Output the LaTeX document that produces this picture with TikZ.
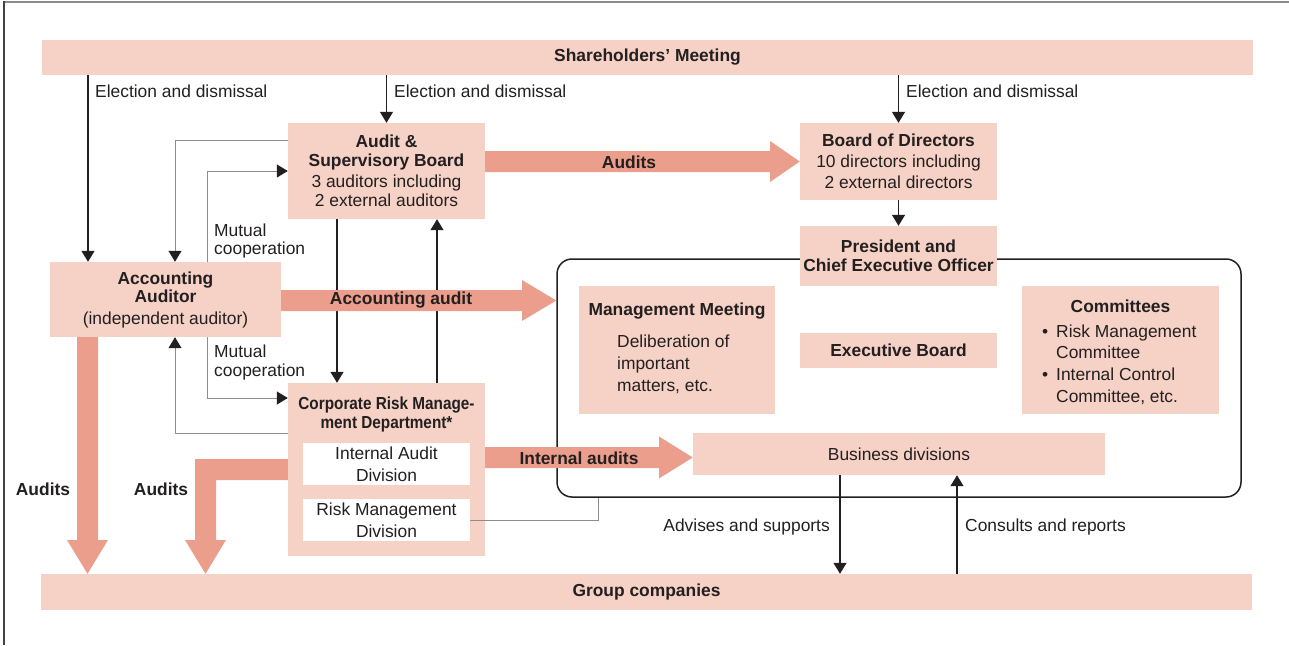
\documentclass[tikz,border=0pt]{standalone}
\usepackage{fontspec}
\setmainfont{Liberation Sans}
\newfontfamily\narrowfont[FakeStretch=0.88]{Liberation Sans}
\usetikzlibrary{arrows.meta}
\definecolor{boxc}{HTML}{F5D2C5}
\definecolor{arrc}{HTML}{EB9E8B}
\definecolor{txtc}{HTML}{231F20}
\definecolor{grayc}{HTML}{8C8C8C}
\newcommand\myfs[1]{\fontsize{17.4}{#1}\selectfont}
\begin{document}
\begin{tikzpicture}[x=1pt,y=-1pt,
  every node/.style={text=txtc, font=\myfs{21}},
  box/.style={fill=boxc, inner sep=0pt, align=center, font=\myfs{21}\bfseries},
  wbox/.style={fill=white, inner sep=0pt, align=center, font=\myfs{22}},
  lbl/.style={inner sep=0pt},
  blk/.style={line width=1.3pt, draw=txtc, -{Triangle[width=13pt,length=11pt]}},
  gl/.style={line width=1pt, draw=grayc, -{Triangle[width=13pt,length=11pt,color=txtc]}},
  glp/.style={line width=1pt, draw=grayc},
  big/.style={fill=arrc}
]
\useasboundingbox (0,0) rectangle (1289,645);
% frame
\draw[grayc, line width=2pt] (4,2) -- (1289,2);
\draw[txtc!85, line width=1.5pt] (4,1) -- (4,645);

% executive area
\node[draw=txtc, line width=1.5pt, rounded corners=15pt, minimum width=684pt, minimum height=238pt, inner sep=0pt] (exec) at (899,378) {};

% boxes
\node[box, minimum width=1211pt, minimum height=35pt] (sh) at (647.5,57.5) {Shareholders’ Meeting};
\node[box, minimum width=1211pt, minimum height=36pt] (gc) at (646.5,592) {Group companies};
\node[box, minimum width=197pt, minimum height=96pt, font=\myfs{19}\bfseries] (asb) at (386.5,171) {Audit \&\\Supervisory Board\\[2pt]{\mdseries 3 auditors including}\\{\mdseries 2 external auditors}};
\node[box, minimum width=197pt, minimum height=77pt] (bod) at (898.5,161.5) {Board of Directors\\{\mdseries 10 directors including}\\{\mdseries 2 external directors}};
\node[box, minimum width=197pt, minimum height=60pt, font=\myfs{18.5}\bfseries] (pres) at (898.5,256) {President and\\Chief Executive Officer};
\node[box, minimum width=196pt, minimum height=128pt] (mm) at (677,350) {};
\node[lbl, font=\myfs{21}\bfseries] (mmt) at (677,311) {Management Meeting};
\node[lbl, anchor=west, align=left, font=\myfs{22}] (mmb) at (617,364) {Deliberation of\\important\\matters, etc.};
\node[box, minimum width=197pt, minimum height=35pt] (eb) at (898.5,350.5) {Executive Board};
\node[box, minimum width=197pt, minimum height=128pt] (com) at (1120.5,350) {};
\node[lbl, font=\myfs{21}\bfseries] (comt) at (1120.5,306) {Committees};
\node[lbl, anchor=west, align=left, font=\myfs{21.6}] (comb) at (1042,364.5) {\makebox[14pt][l]{•}Risk Management\\\makebox[14pt][l]{}Committee\\\makebox[14pt][l]{•}Internal Control\\\makebox[14pt][l]{}Committee, etc.};
\node[box, minimum width=412pt, minimum height=42pt, font=\myfs{21}] (bd) at (899,454) {Business divisions};
\node[box, minimum width=231pt, minimum height=75pt, font=\myfs{18}\bfseries] (aa) at (165.5,299.5) {Accounting\\Auditor\\[4pt]{\mdseries (independent auditor)}};
\node[box, minimum width=197pt, minimum height=173pt] (crm) at (386.5,469.5) {};
\node[lbl, align=center, font=\narrowfont\myfs{19}\bfseries] (crmt) at (386.5,414) {Corporate Risk Manage-\\ment Department*};
\node[wbox, minimum width=167pt, minimum height=42pt] (iad) at (386.5,464) {Internal Audit\\Division};
\node[wbox, minimum width=167pt, minimum height=42pt] (rmd) at (386.5,520) {Risk Management\\Division};

% thin connectors
\draw[blk] (88,0 |- sh.south) -- (88,0 |- aa.north);
\draw[blk] (asb.north |- sh.south) -- (asb.north);
\draw[blk] (bod.north |- sh.south) -- (bod.north);
\draw[blk] (bod.south) -- (pres.north);
\draw[gl] (asb.west |- 0,140) -| (175,0 |- aa.north);
\draw[gl] (207,0 |- aa.north) |- (asb.west |- 0,171);
\draw[gl] (207,0 |- aa.south) |- (crm.west |- 0,398);
\draw[gl] (crm.west |- 0,433) -| (175,0 |- aa.south);
\draw[blk] (337,0 |- asb.south) -- (337,0 |- crm.north);
\draw[blk] (437,0 |- crm.north) -- (437,0 |- asb.south);
\draw[glp] (rmd.east) -| (598,0 |- exec.south);
\draw[blk] (840,0 |- bd.south) -- (840,0 |- gc.north);
\draw[blk] (957,0 |- gc.north) -- (957,0 |- bd.south);

% big arrows
\fill[big] (asb.east |- 0,151) -- (770,151) -- (770,141) -- (bod.west |- 0,161.5) -- (770,182) -- (770,172) -- (asb.east |- 0,172) -- cycle;
\fill[big] (aa.east |- 0,290) -- (522,290) -- (522,280) -- (exec.west |- 0,300.5) -- (522,321) -- (522,311) -- (aa.east |- 0,311) -- cycle;
\fill[big] (crm.east |- 0,447) -- (659,447) -- (659,436.5) -- (bd.west |- 0,457.5) -- (659,478.5) -- (659,468) -- (crm.east |- 0,468) -- cycle;
\fill[big] (77,0 |- aa.south) -- (77,540) -- (67,540) -- (87.5,0 |- gc.north) -- (108,540) -- (98,540) -- (98,0 |- aa.south) -- cycle;
\fill[big] (crm.west |- 0,459) -- (195,459) -- (195,540) -- (185,540) -- (205.5,0 |- gc.north) -- (226,540) -- (216,540) -- (216,480) -- (crm.west |- 0,480) -- cycle;

% big arrow labels
\node[lbl, font=\myfs{21}\bfseries] (l1) at (629,162) {Audits};
\node[lbl, font=\myfs{21}\bfseries] (l2) at (401,300.5) {Accounting audit};
\node[lbl, font=\myfs{21}\bfseries] (l3) at (579,458) {Internal audits};
\node[lbl, font=\myfs{21}\bfseries] (l4) at (43,489) {Audits};
\node[lbl, font=\myfs{21}\bfseries] (l5) at (161,489) {Audits};

% labels
\node[lbl, anchor=west] (e1) at (95,91) {Election and dismissal};
\node[lbl, anchor=west] (e2) at (394,91) {Election and dismissal};
\node[lbl, anchor=west] (e3) at (906,91) {Election and dismissal};
\node[lbl, anchor=west, align=left, font=\myfs{18.5}] (m1) at (214,241) {Mutual\\cooperation};
\node[lbl, anchor=west, align=left, font=\myfs{19}] (m2) at (214,362.5) {Mutual\\cooperation};
\node[lbl, anchor=east] (a1) at (830,527) {Advises and supports};
\node[lbl, anchor=west] (c1) at (965,527) {Consults and reports};
\end{tikzpicture}
\end{document}
